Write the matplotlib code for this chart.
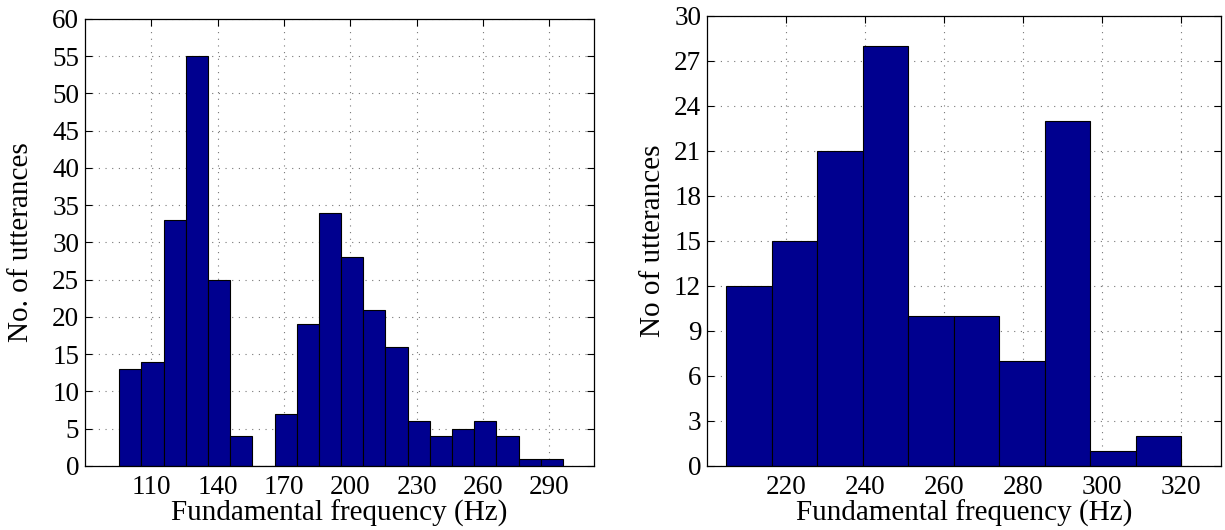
import numpy as np
import matplotlib.pyplot as plt

# left histogram: 20 bins between min and max F0
left_counts = [13, 14, 33, 55, 25, 4, 0, 7, 19, 34, 28, 21, 16, 6, 4, 5, 6, 4, 1, 1]
left_range = (95.6, 296.1)
left_xticks = [110, 140, 170, 200, 230, 260, 290]
left_yticks = list(range(0, 61, 5))

# right histogram: 10 bins
right_counts = [12, 15, 21, 28, 10, 10, 7, 23, 1, 2]
right_range = (205.0, 320.0)
right_xticks = [220, 240, 260, 280, 300, 320]
right_yticks = list(range(0, 31, 3))

plt.rcParams['font.family'] = ['Liberation Serif', 'DejaVu Serif']
plt.rcParams['font.size'] = 21

fig = plt.figure(figsize=(12.25, 5.3), dpi=100)
ax1 = fig.add_axes([0.0692, 0.1208, 0.4154, 0.8434])
ax2 = fig.add_axes([0.5769, 0.1208, 0.4198, 0.8496])


def draw(ax, counts, rng, xticks, yticks, xlim, ylabel, ypad):
    edges = np.linspace(rng[0], rng[1], len(counts) + 1)
    ax.bar(edges[:-1], counts, width=np.diff(edges), align='edge',
           color='#00008F', edgecolor='black', linewidth=0.8, zorder=2)
    ax.set_xlim(*xlim)
    ax.set_ylim(yticks[0], yticks[-1])
    ax.set_xticks(xticks)
    ax.set_yticks(yticks)
    ax.grid(True, linestyle=(0, (1, 5)), color='#777777', linewidth=0.8, zorder=0)
    ax.set_axisbelow(True)
    ax.tick_params(direction='in', top=True, right=True, length=5, width=0.8, labelsize=19.5)
    ax.tick_params(axis='x', pad=6.5)
    ax.tick_params(axis='y', pad=4)
    for s in ax.spines.values():
        s.set_linewidth(0.9)
    ax.set_xlabel('Fundamental frequency (Hz)', labelpad=0)
    ax.set_ylabel(ylabel, labelpad=ypad)


draw(ax1, left_counts, left_range, left_xticks, left_yticks, (80, 310), 'No. of utterances', 13)
draw(ax2, right_counts, right_range, right_xticks, right_yticks, (200, 330), 'No of utterances', 6)

fig.savefig('out.png', dpi=100)
